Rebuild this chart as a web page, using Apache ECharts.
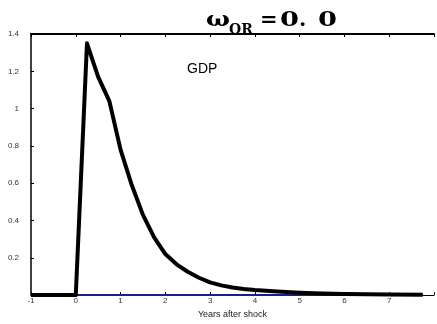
<!DOCTYPE html>
<html>
<head>
<meta charset="utf-8">
<script src="https://cdn.jsdelivr.net/npm/echarts@6/dist/echarts.min.js"></script>
<style>
html, body { margin: 0; padding: 0; background: #fff; }
#main { width: 437px; height: 324px; }
</style>
</head>
<body>
<div id="main"></div>
<script>
// years after shock (quarterly) and GDP response
var gdpYears = [-1, 0, 0.25, 0.5, 0.75, 1, 1.25, 1.5, 1.75, 2, 2.25, 2.5, 2.75, 3, 3.25, 3.5, 3.75, 4, 4.5, 5, 5.5, 6, 6.5, 7, 7.75];
var gdpValues = [0, 0, 1.35, 1.17, 1.04, 0.78, 0.59, 0.43, 0.31, 0.22, 0.165, 0.125, 0.093, 0.068, 0.052, 0.041, 0.033, 0.027, 0.019, 0.013, 0.009, 0.006, 0.004, 0.003, 0.002];
var zeroYears = [0, 7.75];
var zeroValues = [0, 0];

function pairs(xs, ys) {
	var out = [];
	for (var i = 0; i < xs.length; i++) {
		out.push([xs[i], ys[i]]);
	}
	return out;
}

var titleFont = 'bold 21px "DejaVu Serif"';

var myChart = echarts.init(document.getElementById('main'));
var option = {
	animation: false,
	grid: {
		left: 31,
		right: -4,
		top: 34,
		bottom: 28
	},
	graphic: [{
			type: 'text',
			x: 206,
			y: 10,
			scaleX: 1.2,
			style: { text: 'ω', font: titleFont, fill: '#000' }
		},
		{
			type: 'text',
			x: 229,
			y: 23,
			style: { text: 'OR', font: 'bold 14px "DejaVu Serif"', fill: '#000' }
		},
		{
			type: 'text',
			x: 260,
			y: 10,
			style: { text: '=', font: titleFont, fill: '#000' }
		},
		{
			type: 'text',
			x: 280,
			y: 10,
			scaleX: 1.3,
			style: { text: '0', font: titleFont, fill: '#000' }
		},
		{
			type: 'text',
			x: 299,
			y: 10,
			style: { text: '.', font: titleFont, fill: '#000' }
		},
		{
			type: 'text',
			x: 318,
			y: 10,
			scaleX: 1.3,
			style: { text: '0', font: titleFont, fill: '#000' }
		},
		{
			type: 'text',
			x: 187,
			y: 62,
			style: { text: 'GDP', font: '14px "Liberation Sans"', fill: '#000' }
		}
	],
	xAxis: [{
			type: 'value',
			min: -1,
			max: 8,
			interval: 1,
			position: 'bottom',
			name: 'Years after shock',
			nameLocation: 'middle',
			nameGap: 9,
			nameTextStyle: {
				fontFamily: 'Liberation Sans',
				fontSize: 9,
				color: '#222'
			},
			axisLine: {
				onZero: false,
				lineStyle: { color: '#000', width: 1 }
			},
			axisTick: {
				inside: true,
				length: 3,
				lineStyle: { color: '#000' }
			},
			axisLabel: {
				margin: 2,
				fontFamily: 'Liberation Sans',
				fontSize: 8,
				color: '#333',
				formatter: function (v) { return v >= 8 ? '' : String(v); }
			},
			splitLine: { show: false }
		},
		{
			type: 'value',
			min: -1,
			max: 8,
			interval: 1,
			position: 'top',
			axisLine: {
				onZero: false,
				lineStyle: { color: '#000', width: 2 }
			},
			axisTick: {
				inside: true,
				length: 3,
				lineStyle: { color: '#000' }
			},
			axisLabel: { show: false },
			splitLine: { show: false }
		}
	],
	yAxis: {
		type: 'value',
		min: 0,
		max: 1.4,
		interval: 0.2,
		axisLine: {
			show: true,
			onZero: false,
			lineStyle: { color: '#000', width: 1.5 }
		},
		axisTick: {
			show: true,
			inside: true,
			length: 3,
			lineStyle: { color: '#000' }
		},
		axisLabel: {
			margin: 12,
			fontFamily: 'Liberation Sans',
			fontSize: 8,
			color: '#333',
			formatter: function (v) { return v === 0 ? '' : String(Math.round(v * 10) / 10); }
		},
		splitLine: { show: false }
	},
	series: [{
			name: 'zero',
			type: 'line',
			showSymbol: false,
			z: 3,
			lineStyle: { color: '#1c1c8a', width: 2 },
			data: pairs(zeroYears, zeroValues)
		},
		{
			name: 'GDP',
			type: 'line',
			showSymbol: false,
			z: 5,
			lineStyle: { color: '#000', width: 4, join: 'round' },
			data: pairs(gdpYears, gdpValues)
		}
	]
};
myChart.setOption(option);
</script>
</body>
</html>
